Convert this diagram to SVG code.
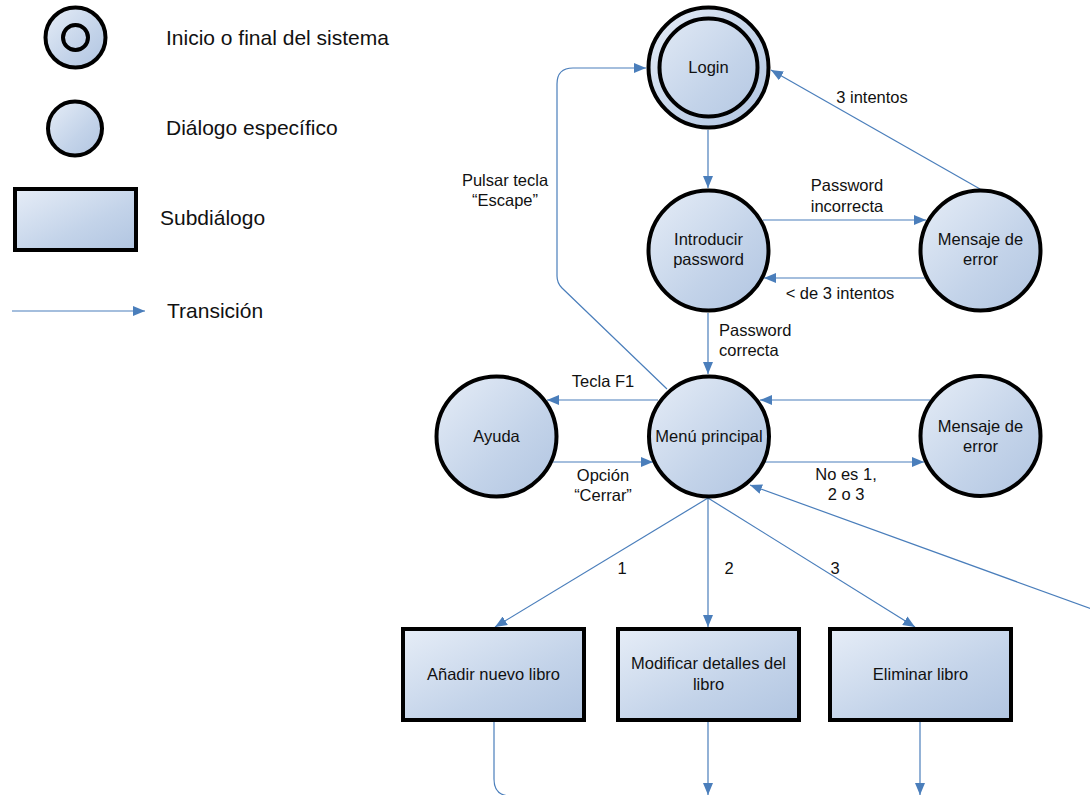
<svg xmlns="http://www.w3.org/2000/svg" width="1090" height="795" viewBox="0 0 1090 795">
<defs>
<linearGradient id="g" x1="0" y1="0" x2="1" y2="1">
<stop offset="0" stop-color="#e6edf7"/>
<stop offset="0.6" stop-color="#c3d3e9"/>
<stop offset="1" stop-color="#b1c5e1"/>
</linearGradient>
<marker id="a" markerUnits="userSpaceOnUse" markerWidth="12" markerHeight="10" refX="12" refY="5" orient="auto">
<path d="M0,0 L12,5 L0,10 z" fill="#4a7ebb"/>
</marker>
<style>
.n{fill:url(#g);stroke:#000;stroke-width:4}
.ni{fill:none;stroke:#000;stroke-width:4}
.c{fill:none;stroke:#4a7ebb;stroke-width:1.2;marker-end:url(#a)}
.cl{fill:none;stroke:#4a7ebb;stroke-width:1.2}
text{font-family:"Liberation Sans",Arial,sans-serif;fill:#111}
.t{font-size:16.5px;text-anchor:middle}
.l{font-size:21px}
</style>
</defs>
<g id="legend">
<circle class="n" cx="75.5" cy="37.5" r="30"/>
<circle class="ni" cx="75.5" cy="37.5" r="12.5"/>
<text class="l" x="166" y="45">Inicio o final del sistema</text>
<circle class="n" cx="75" cy="128.5" r="27"/>
<text class="l" x="166" y="135">Diálogo específico</text>
<rect class="n" x="15" y="189" width="121" height="61"/>
<text class="l" x="160" y="225">Subdiálogo</text>
<line x1="12" y1="311" x2="145" y2="311" class="c"/>
<text class="l" x="167" y="318">Transición</text>
</g>
<g id="connectors">
<path class="c" d="M667,389 L562,288 Q557,283 557,276 L557,84 Q557,68 573,68 L646,68"/>
<path class="c" d="M980,189 L771,70"/>
<path class="c" d="M708,130 L708,188"/>
<path class="c" d="M763,220 L926,220"/>
<path class="c" d="M925,278 L764,278"/>
<path class="c" d="M708,313 L708,374"/>
<path class="c" d="M658,400 L547,400"/>
<path class="c" d="M553,462 L653,462"/>
<path class="c" d="M930,400 L760,400"/>
<path class="c" d="M765,462 L924,462"/>
<path class="c" d="M708,498 L495,627"/>
<path class="c" d="M708,498 L708,627"/>
<path class="c" d="M708,498 L915,627"/>
<path class="c" d="M1100,612 L750,485"/>
<path class="cl" d="M494,722 L494,779 Q494,796 511,796 L560,796"/>
<path class="c" d="M708,722 L708,795"/>
<path class="c" d="M920,722 L920,795"/>
<text class="t" x="505" y="186">Pulsar tecla</text>
<text class="t" x="505" y="206">“Escape”</text>
<text class="t" x="872" y="103">3 intentos</text>
<text class="t" x="847" y="191">Password</text>
<text class="t" x="847" y="212">incorrecta</text>
<text class="t" x="840" y="299">&lt; de 3 intentos</text>
<text x="719" y="336" font-size="16.5">Password</text>
<text x="719" y="356" font-size="16.5">correcta</text>
<text class="t" x="603" y="387">Tecla F1</text>
<text class="t" x="603" y="481">Opción</text>
<text class="t" x="603" y="501">“Cerrar”</text>
<text class="t" x="846" y="480">No es 1,</text>
<text class="t" x="846" y="500">2 o 3</text>
<text class="t" x="622" y="574">1</text>
<text class="t" x="729" y="574">2</text>
<text class="t" x="835" y="574">3</text>
</g>
<g id="login">
<circle class="n" cx="708.5" cy="67.5" r="60"/>
<circle class="ni" cx="708.5" cy="67.5" r="49"/>
<text class="t" x="708.5" y="73">Login</text>
</g>
<g id="introducir">
<circle class="n" cx="708.5" cy="250.5" r="60"/>
<text class="t" x="708.5" y="245">Introducir</text>
<text class="t" x="708.5" y="265">password</text>
</g>
<g id="error1">
<circle class="n" cx="980.5" cy="250.5" r="60"/>
<text class="t" x="980.5" y="245">Mensaje de</text>
<text class="t" x="980.5" y="265">error</text>
</g>
<g id="menu">
<circle class="n" cx="709" cy="436.5" r="60"/>
<text class="t" x="709" y="442">Menú principal</text>
</g>
<g id="ayuda">
<circle class="n" cx="496.5" cy="436.5" r="60"/>
<text class="t" x="496.5" y="442">Ayuda</text>
</g>
<g id="error2">
<circle class="n" cx="980.5" cy="436" r="60"/>
<text class="t" x="980.5" y="432">Mensaje de</text>
<text class="t" x="980.5" y="452">error</text>
</g>
<g id="anadir">
<rect class="n" x="403" y="629" width="181" height="91"/>
<text class="t" x="493.5" y="680">Añadir nuevo libro</text>
</g>
<g id="modificar">
<rect class="n" x="618" y="629" width="181" height="91"/>
<text class="t" x="708.5" y="669">Modificar detalles del</text>
<text class="t" x="708.5" y="690">libro</text>
</g>
<g id="eliminar">
<rect class="n" x="830" y="629" width="181" height="91"/>
<text class="t" x="920.5" y="680">Eliminar libro</text>
</g>
</svg>
